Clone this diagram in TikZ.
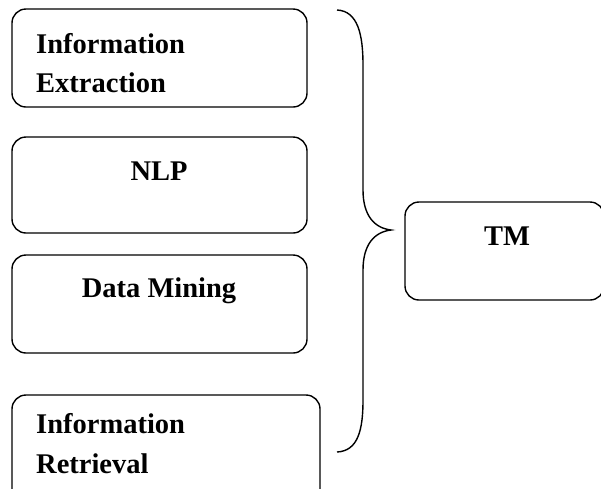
\documentclass[tikz,border=0pt]{standalone}
\usepackage{fontspec}
\setmainfont{Liberation Serif}
\begin{document}
\begin{tikzpicture}[x=1pt,y=-1pt,
  box/.style={draw=black, line width=1.4pt, rounded corners=14pt},
  lbl/.style={inner sep=0pt, font=\fontsize{28.5}{40}\selectfont\bfseries},
  bracepath/.style={draw=black, line width=1.4pt}]
\useasboundingbox (0,0) rectangle (601,488);
\clip (0,0) rectangle (601,488);
% boxes
\path[box] (12,9) rectangle (307,107);
\path[box] (12,137) rectangle (307,233);
\path[box] (12,255) rectangle (307,353);
\path[box] (12,395) rectangle (320,505);
\path[box] (405,202) rectangle (604,300);
% labels
\node[lbl, anchor=base west] (t1a) at (36,53) {Information};
\node[lbl, anchor=base west] (t1b) at (36,92) {Extraction};
\node[lbl, anchor=base] (t2) at (159,180) {NLP};
\node[lbl, anchor=base] (t3) at (159,297) {Data Mining};
\node[lbl, anchor=base west] (t4a) at (36,433) {Information};
\node[lbl, anchor=base west] (t4b) at (36,473) {Retrieval};
\node[lbl, anchor=base] (tm) at (507,245) {TM};
% brace
\coordinate (btop) at (337,10);
\coordinate (bmid) at (391,230);
\coordinate (bbot) at (337,452);
\path[bracepath] (btop) .. controls (358,11) and (363,35) .. (363,65)
  -- (363,190) .. controls (363,215) and (374,228) .. (bmid)
  .. controls (374,232) and (363,245) .. (363,270)
  -- (363,400) .. controls (363,430) and (358,451) .. (bbot);
\end{tikzpicture}
\end{document}
